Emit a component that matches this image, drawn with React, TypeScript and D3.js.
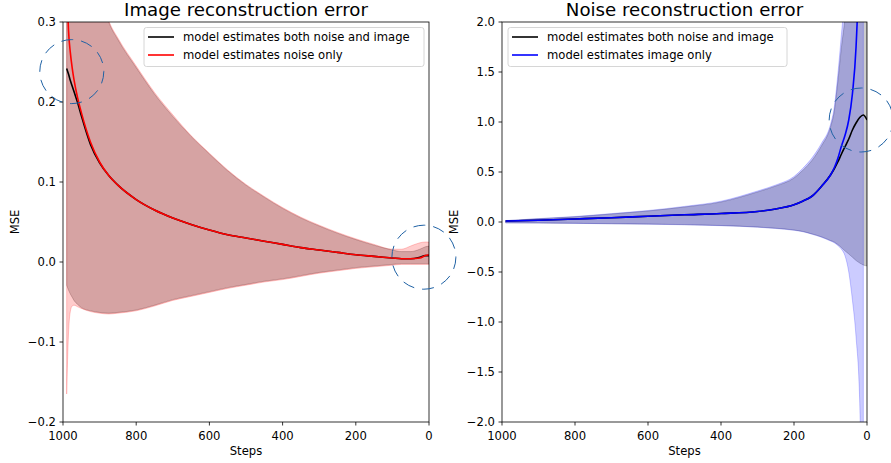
import React from "react";
import * as d3 from "d3";

// ---- left panel: image reconstruction error ----
const stepsL = [990, 985, 980, 975, 970, 960, 950, 925, 900, 875, 850, 800, 750, 700, 650, 600, 550, 500, 450, 400, 350, 300, 250, 200, 150, 100, 75, 50, 25, 10, 0];
const bothMeanL = [0.242, 0.235, 0.227, 0.22, 0.213, 0.199, 0.183, 0.147, 0.124, 0.108, 0.096, 0.078, 0.065, 0.055, 0.047, 0.04, 0.034, 0.03, 0.026, 0.022, 0.018, 0.015, 0.012, 0.009, 0.007, 0.005, 0.004, 0.004, 0.006, 0.008, 0.008];
const bothHiL = [0.8, 0.74, 0.69, 0.64, 0.6, 0.54, 0.49, 0.4, 0.34, 0.3, 0.278, 0.243, 0.21, 0.182, 0.157, 0.135, 0.114, 0.096, 0.081, 0.067, 0.055, 0.045, 0.036, 0.028, 0.021, 0.015, 0.013, 0.013, 0.016, 0.019, 0.02];
const bothLoL = [-0.029, -0.035, -0.04, -0.044, -0.048, -0.053, -0.057, -0.061, -0.063, -0.064, -0.063, -0.06, -0.054, -0.047, -0.042, -0.037, -0.032, -0.028, -0.024, -0.021, -0.017, -0.013, -0.01, -0.007, -0.005, -0.003, -0.002, -0.002, -0.002, -0.002, -0.002];
const noiseMeanL = [0.36, 0.29, 0.262, 0.243, 0.228, 0.205, 0.187, 0.15, 0.125, 0.108, 0.096, 0.078, 0.065, 0.055, 0.047, 0.04, 0.034, 0.03, 0.026, 0.022, 0.018, 0.015, 0.012, 0.009, 0.007, 0.005, 0.004, 0.004, 0.005, 0.008, 0.009];
const noiseHiL = [0.81, 0.75, 0.7, 0.65, 0.61, 0.55, 0.5, 0.41, 0.345, 0.302, 0.28, 0.245, 0.212, 0.184, 0.158, 0.136, 0.115, 0.097, 0.082, 0.068, 0.056, 0.046, 0.037, 0.029, 0.022, 0.016, 0.016, 0.02, 0.024, 0.025, 0.025];
const noiseLoL = [-0.165, -0.09, -0.062, -0.055, -0.054, -0.056, -0.058, -0.062, -0.064, -0.065, -0.064, -0.061, -0.055, -0.048, -0.043, -0.038, -0.033, -0.029, -0.025, -0.022, -0.018, -0.014, -0.011, -0.008, -0.006, -0.004, -0.003, -0.003, -0.003, -0.003, -0.003];

// ---- right panel: noise reconstruction error ----
const stepsR = [990, 900, 800, 700, 600, 500, 400, 300, 250, 200, 175, 150, 125, 100, 90, 80, 70, 60, 50, 40, 30, 20, 10, 0];
const bothMeanR = [0.01, 0.018, 0.03, 0.043, 0.058, 0.072, 0.085, 0.105, 0.13, 0.172, 0.21, 0.26, 0.355, 0.47, 0.53, 0.6, 0.68, 0.755, 0.83, 0.92, 0.99, 1.045, 1.07, 1.02];
const bothHiR = [0.013, 0.032, 0.052, 0.08, 0.11, 0.15, 0.2, 0.3, 0.36, 0.44, 0.52, 0.62, 0.76, 0.95, 1.1, 1.4, 1.75, 2.05, 2.5, 3.1, 4, 5, 6, 6];
const bothLoR = [-0.008, -0.01, -0.013, -0.017, -0.021, -0.026, -0.035, -0.05, -0.062, -0.08, -0.095, -0.12, -0.148, -0.185, -0.2, -0.225, -0.255, -0.29, -0.32, -0.352, -0.385, -0.41, -0.43, -0.44];
const imageMeanR = [0.01, 0.018, 0.03, 0.043, 0.058, 0.072, 0.085, 0.105, 0.13, 0.172, 0.21, 0.26, 0.355, 0.47, 0.54, 0.635, 0.76, 0.87, 1.02, 1.28, 1.75, 2.8, 5, null];
const imageHiR = [0.014, 0.034, 0.055, 0.084, 0.115, 0.156, 0.208, 0.31, 0.37, 0.455, 0.54, 0.645, 0.785, 0.975, 1.14, 1.47, 1.88, 2.3, 2.9, 3.6, 4.5, 5.5, 6.5, null];
const imageLoR = [-0.009, -0.011, -0.014, -0.018, -0.022, -0.028, -0.037, -0.052, -0.065, -0.083, -0.098, -0.123, -0.152, -0.19, -0.207, -0.235, -0.272, -0.34, -0.5, -0.78, -1.15, -1.8, -4, null];

const xTicks = [1000, 800, 600, 400, 200, 0];
const yTicksL = [0.3, 0.2, 0.1, 0.0, -0.1, -0.2];
const yTicksR = [2.0, 1.5, 1.0, 0.5, 0.0, -0.5, -1.0, -1.5, -2.0];

// dashed highlight circles: [step, value]
const circlesL = [[976, 0.238], [14, 0.006]];
const circlesR = [[16, 1.02]];

const FONT = "DejaVu Sans, sans-serif";
const FS = 11.6;
const top = 22;
const bottom = 422;

type PanelProps = {
  id: string;
  x0: number;
  x1: number;
  title: string;
  yDomain: [number, number];
  yTicks: number[];
  steps: number[];
  bothMean: (number | null)[];
  bothLo: (number | null)[];
  bothHi: (number | null)[];
  mean: (number | null)[];
  lo: (number | null)[];
  hi: (number | null)[];
  color: string;
  label: string;
  legend: { x: number; w: number };
  circles: number[][];
};

function Panel(p: PanelProps) {
  const x = d3.scaleLinear().domain([1000, 0]).range([p.x0, p.x1]);
  const y = d3.scaleLinear().domain(p.yDomain).range([bottom, top]);
  const fmt = d3.format(".1f");
  const idx = p.steps.map((_, i) => i);

  const band = (lo: (number | null)[], hi: (number | null)[]) =>
    d3
      .area<number>()
      .defined((i) => lo[i] != null && hi[i] != null)
      .x((i) => x(p.steps[i]))
      .y0((i) => y(lo[i] as number))
      .y1((i) => y(hi[i] as number))
      .curve(d3.curveMonotoneX)(idx) || "";
  const line = (v: (number | null)[]) =>
    d3
      .line<number>()
      .defined((i) => v[i] != null)
      .x((i) => x(p.steps[i]))
      .y((i) => y(v[i] as number))
      .curve(d3.curveMonotoneX)(idx) || "";

  const lx = p.legend.x;
  const cx = (p.x0 + p.x1) / 2;

  return (
    <g>
      <defs>
        <clipPath id={`clip-${p.id}`}>
          <rect x={p.x0} y={top} width={p.x1 - p.x0} height={bottom - top} />
        </clipPath>
      </defs>
      <g clipPath={`url(#clip-${p.id})`}>
        <path d={band(p.bothLo, p.bothHi)} fill="#000" fillOpacity={0.2} stroke="#000" strokeOpacity={0.2} strokeWidth={1} />
        <path d={band(p.lo, p.hi)} fill={p.color} fillOpacity={0.2} stroke={p.color} strokeOpacity={0.2} strokeWidth={1} />
        <path d={line(p.bothMean)} fill="none" stroke="#000" strokeWidth={1.6} />
        <path d={line(p.mean)} fill="none" stroke={p.color} strokeWidth={1.6} />
      </g>
      <rect x={p.x0} y={top} width={p.x1 - p.x0} height={bottom - top} fill="none" stroke="#000" strokeWidth={0.8} />
      {xTicks.map((t) => (
        <g key={t}>
          <line x1={x(t)} x2={x(t)} y1={bottom} y2={bottom + 3.5} stroke="#000" strokeWidth={0.8} />
          <text x={x(t)} y={440} textAnchor="middle" fontSize={FS} fontFamily={FONT}>
            {t}
          </text>
        </g>
      ))}
      {p.yTicks.map((t) => (
        <g key={t}>
          <line x1={p.x0 - 3.5} x2={p.x0} y1={y(t)} y2={y(t)} stroke="#000" strokeWidth={0.8} />
          <text x={p.x0 - 7} y={y(t) + 4.2} textAnchor="end" fontSize={FS} fontFamily={FONT}>
            {fmt(t)}
          </text>
        </g>
      ))}
      <text x={cx} y={455} textAnchor="middle" fontSize={FS} fontFamily={FONT}>
        Steps
      </text>
      <text transform={`translate(${p.x0 - 44},${(top + bottom) / 2}) rotate(-90)`} textAnchor="middle" fontSize={FS} fontFamily={FONT}>
        MSE
      </text>
      <text x={cx} y={15.5} textAnchor="middle" fontSize={18.2} fontFamily={FONT}>
        {p.title}
      </text>
      <rect x={lx} y={27.5} width={p.legend.w} height={39} rx={2.5} fill="#fff" fillOpacity={0.8} stroke="#ccc" strokeWidth={0.8} />
      <line x1={lx + 4} x2={lx + 30} y1={37} y2={37} stroke="#000" strokeWidth={1.6} />
      <text x={lx + 39} y={41.2} fontSize={FS} fontFamily={FONT}>
        model estimates both noise and image
      </text>
      <line x1={lx + 4} x2={lx + 30} y1={55} y2={55} stroke={p.color} strokeWidth={1.6} />
      <text x={lx + 39} y={59.2} fontSize={FS} fontFamily={FONT}>
        {p.label}
      </text>
      {p.circles.map((c, i) => (
        <circle key={i} cx={x(c[0])} cy={y(c[1])} r={32} fill="none" stroke="#1f62a5" strokeWidth={1} strokeDasharray="12 8" />
      ))}
    </g>
  );
}

export default function App() {
  return (
    <svg width={891} height={463} style={{ position: "absolute", left: 0, top: 0, background: "#fff" }}>
      <Panel
        id="l"
        x0={63}
        x1={429}
        title="Image reconstruction error"
        yDomain={[-0.2, 0.3]}
        yTicks={yTicksL}
        steps={stepsL}
        bothMean={bothMeanL}
        bothLo={bothLoL}
        bothHi={bothHiL}
        mean={noiseMeanL}
        lo={noiseLoL}
        hi={noiseHiL}
        color="#ff0000"
        label="model estimates noise only"
        legend={{ x: 144, w: 280 }}
        circles={circlesL}
      />
      <Panel
        id="r"
        x0={502}
        x1={867}
        title="Noise reconstruction error"
        yDomain={[-2, 2]}
        yTicks={yTicksR}
        steps={stepsR}
        bothMean={bothMeanR}
        bothLo={bothLoR}
        bothHi={bothHiR}
        mean={imageMeanR}
        lo={imageLoR}
        hi={imageHiR}
        color="#0000ff"
        label="model estimates image only"
        legend={{ x: 508, w: 279 }}
        circles={circlesR}
      />
    </svg>
  );
}
